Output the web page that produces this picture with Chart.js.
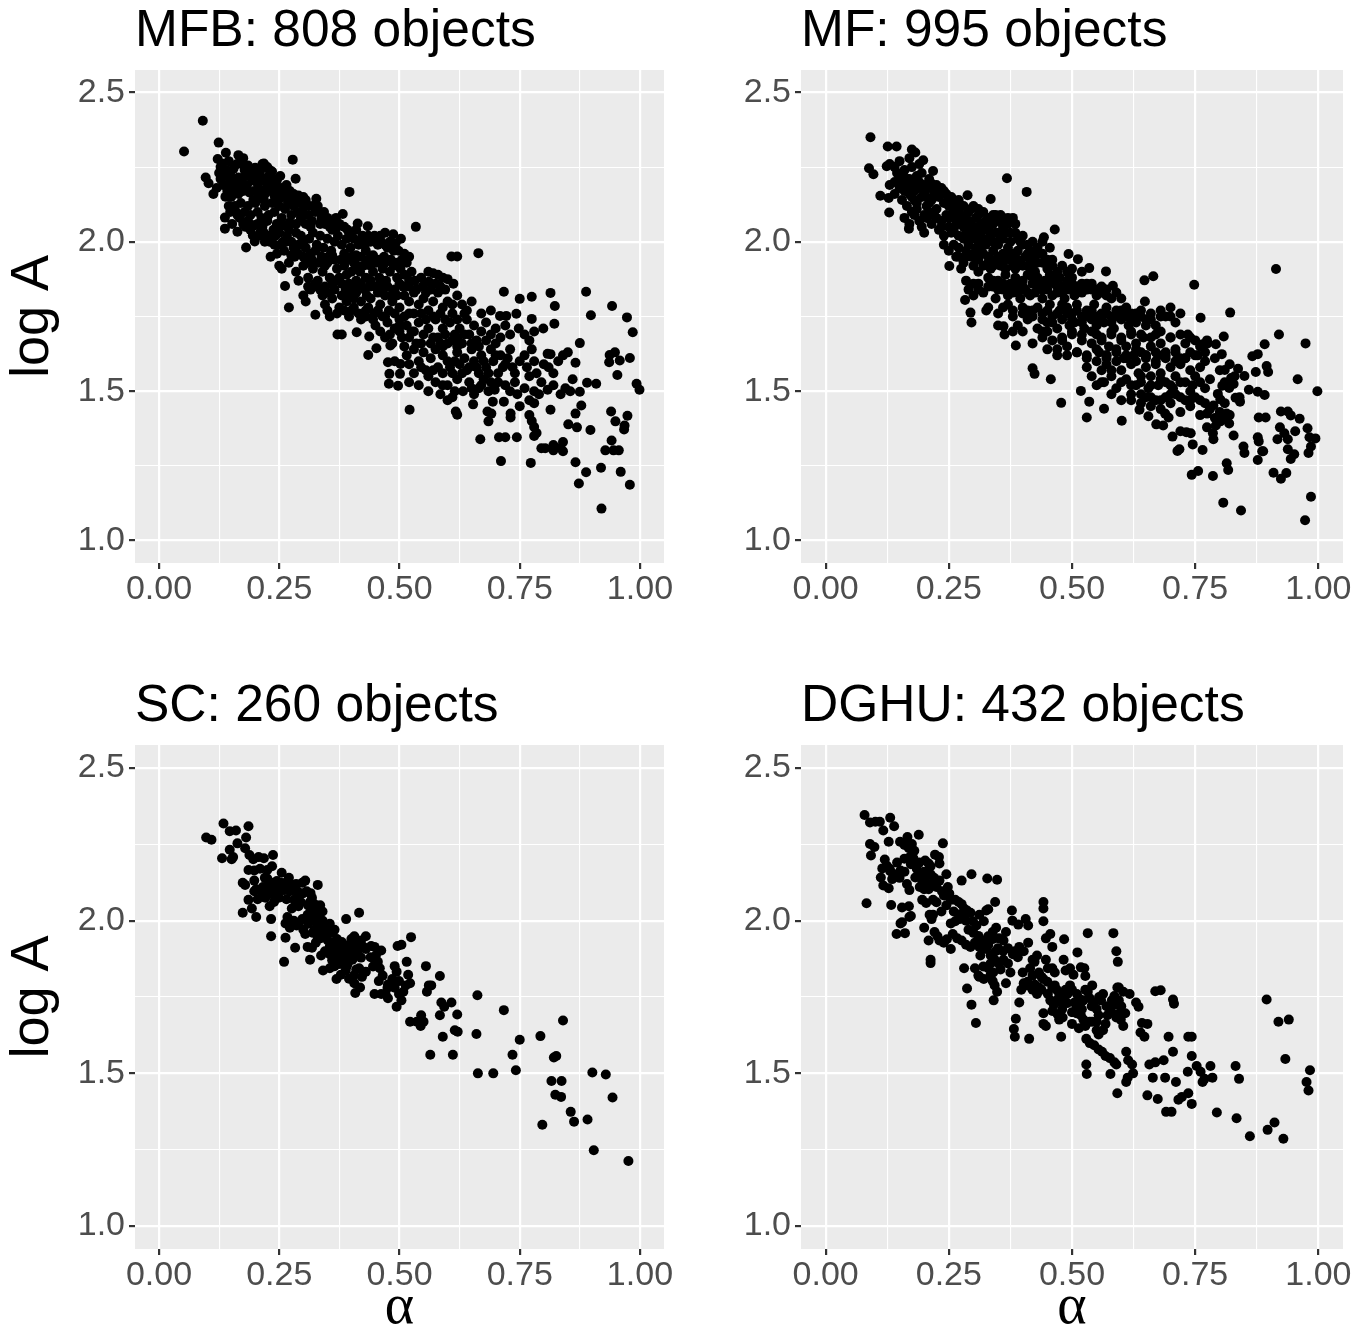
<!DOCTYPE html>
<html><head><meta charset="utf-8">
<script src="https://cdn.jsdelivr.net/npm/chart.js@4.4.1/dist/chart.umd.min.js"></script>
<style>html,body{margin:0;padding:0;background:#fff;width:1370px;height:1331px;overflow:hidden}canvas{position:absolute}</style>
</head><body>
<canvas id="c0"></canvas><canvas id="c1"></canvas><canvas id="c2"></canvas><canvas id="c3"></canvas>
<script>
const xMajorTicks=[0,0.25,0.5,0.75,1];
const xTickLabels=['0.00','0.25','0.50','0.75','1.00'];
const xMinorTicks=[0.125,0.375,0.625,0.875];
const yMajorTicks=[1,1.5,2,2.5];
const yTickLabels=['1.0','1.5','2.0','2.5'];
const yMinorTicks=[1.25,1.75,2.25];
const panelTitles=['MFB: 808 objects','MF: 995 objects','SC: 260 objects','DGHU: 432 objects'];
const xAxisTitle='α';
const yAxisTitle='log A';

const mfbPoints=[[0.052,2.302],[0.091,2.405],[0.124,2.332],[0.139,2.298],[0.122,2.277],[0.131,2.262],[0.145,2.27],[0.165,2.29],[0.175,2.28],[0.17,2.262],[0.185,2.255],[0.2,2.248],[0.218,2.262],[0.225,2.25],[0.278,2.275],[0.128,2.25],[0.14,2.24],[0.155,2.245],[0.19,2.24],[0.235,2.235],[0.21,2.235],
[0.097,2.215],[0.103,2.196],[0.128,2.21],[0.135,2.22],[0.145,2.195],[0.152,2.21],[0.165,2.215],[0.172,2.2],[0.18,2.22],[0.195,2.205],[0.205,2.195],[0.212,2.215],[0.222,2.2],[0.228,2.22],[0.235,2.19],[0.245,2.205],[0.255,2.18],[0.262,2.16],[0.284,2.211],[0.138,2.151],[0.155,2.17],[0.165,2.16],[0.175,2.17],[0.188,2.165],[0.198,2.17],[0.21,2.175],[0.22,2.16],[0.232,2.17],[0.24,2.155],[0.25,2.165],[0.27,2.15],[0.28,2.16],[0.29,2.155],[0.3,2.15],[0.327,2.144],[0.396,2.167],[0.15,2.15],[0.12,2.18],[0.113,2.16],
[0.137,2.081],[0.137,2.044],[0.148,2.1],[0.158,2.12],[0.163,2.09],[0.17,2.13],[0.178,2.1],[0.185,2.12],[0.19,2.09],[0.2,2.13],[0.205,2.1],[0.213,2.08],[0.22,2.12],[0.228,2.09],[0.235,2.13],[0.24,2.1],[0.25,2.12],[0.255,2.08],[0.262,2.11],[0.268,2.13],[0.275,2.09],[0.28,2.12],[0.288,2.1],[0.295,2.08],[0.302,2.12],[0.31,2.09],[0.318,2.07],[0.325,2.1],[0.335,2.06],[0.345,2.06],[0.355,2.05],[0.382,2.093],[0.413,2.061],[0.434,2.052],[0.163,2.034],[0.175,2.06],[0.185,2.07],[0.198,2.055],[0.215,2.05],[0.225,2.07],[0.245,2.06],[0.26,2.055],[0.272,2.065],[0.285,2.06],[0.305,2.06],[0.315,2.05],[0.195,2.021],[0.199,2.001],[0.534,2.05],[0.36,2.04],[0.37,2.05],[0.47,2.03],[0.487,2.025],
[0.181,1.981],[0.21,2.03],[0.22,2.0],[0.23,2.02],[0.24,1.99],[0.25,2.03],[0.258,2.0],[0.266,2.02],[0.26,1.97],[0.275,2.0],[0.285,2.03],[0.29,1.99],[0.295,2.02],[0.305,1.98],[0.312,2.01],[0.32,2.03],[0.328,1.99],[0.335,2.02],[0.342,1.98],[0.35,2.01],[0.358,1.97],[0.365,2.0],[0.372,2.02],[0.38,1.99],[0.39,2.01],[0.398,1.98],[0.405,2.01],[0.415,1.99],[0.423,2.02],[0.43,1.97],[0.44,2.0],[0.448,2.02],[0.455,1.99],[0.462,2.0],[0.475,1.98],[0.492,1.995],[0.498,1.97],[0.503,2.01],[0.51,1.96],[0.52,1.95],[0.608,1.951],[0.62,1.951],[0.664,1.962],[0.245,1.96],[0.232,1.95],[0.25,1.92],[0.255,1.91],[0.275,1.955],[0.3,1.95],[0.315,1.96],[0.338,1.95],[0.36,1.955],[0.385,1.96],[0.41,1.955],[0.445,1.955],[0.468,1.95],
[0.27,1.93],[0.285,1.9],[0.29,1.87],[0.3,1.92],[0.31,1.88],[0.32,1.91],[0.33,1.87],[0.34,1.9],[0.35,1.93],[0.355,1.88],[0.36,1.86],[0.37,1.91],[0.375,1.88],[0.385,1.92],[0.39,1.89],[0.395,1.86],[0.4,1.9],[0.405,1.93],[0.41,1.87],[0.418,1.9],[0.425,1.92],[0.43,1.88],[0.438,1.85],[0.445,1.9],[0.452,1.93],[0.458,1.88],[0.465,1.91],[0.472,1.87],[0.48,1.9],[0.488,1.92],[0.495,1.88],[0.502,1.91],[0.51,1.89],[0.515,1.93],[0.525,1.9],[0.532,1.87],[0.545,1.88],[0.56,1.9],[0.57,1.895],[0.58,1.89],[0.59,1.88],[0.6,1.875],[0.612,1.86],[0.561,1.866],[0.262,1.852],[0.31,1.85],[0.325,1.86],[0.345,1.85],[0.46,1.86],[0.5,1.86],[0.52,1.85],
[0.3,1.82],[0.305,1.8],[0.315,1.84],[0.325,1.756],[0.34,1.82],[0.345,1.79],[0.35,1.77],[0.36,1.81],[0.365,1.84],[0.375,1.78],[0.38,1.82],[0.39,1.8],[0.395,1.84],[0.4,1.77],[0.405,1.81],[0.41,1.83],[0.415,1.76],[0.42,1.8],[0.428,1.84],[0.435,1.78],[0.44,1.81],[0.448,1.76],[0.455,1.83],[0.46,1.79],[0.47,1.82],[0.478,1.77],[0.485,1.8],[0.49,1.84],[0.5,1.78],[0.51,1.82],[0.52,1.8],[0.53,1.83],[0.54,1.79],[0.55,1.81],[0.56,1.77],[0.57,1.8],[0.58,1.83],[0.59,1.78],[0.6,1.8],[0.61,1.76],[0.62,1.82],[0.63,1.79],[0.64,1.77],[0.65,1.8],[0.27,1.78],[0.717,1.833],[0.75,1.809],[0.775,1.816],[0.814,1.829],[0.823,1.785],[0.888,1.833],[0.942,1.785],[0.898,1.754],[0.973,1.747],[0.743,1.759],[0.709,1.752],[0.722,1.752],[0.775,1.742],[0.69,1.77],[0.67,1.76],[0.355,1.75],[0.43,1.75],[0.465,1.75],[0.52,1.76],
[0.371,1.69],[0.38,1.69],[0.411,1.697],[0.437,1.683],[0.45,1.72],[0.46,1.7],[0.475,1.73],[0.48,1.69],[0.49,1.71],[0.5,1.74],[0.505,1.68],[0.515,1.72],[0.525,1.7],[0.535,1.66],[0.54,1.73],[0.55,1.69],[0.56,1.71],[0.565,1.66],[0.575,1.74],[0.58,1.68],[0.59,1.71],[0.6,1.66],[0.605,1.73],[0.615,1.69],[0.625,1.71],[0.63,1.66],[0.64,1.74],[0.645,1.69],[0.655,1.72],[0.66,1.67],[0.67,1.7],[0.68,1.73],[0.69,1.69],[0.7,1.71],[0.71,1.68],[0.72,1.72],[0.73,1.69],[0.748,1.71],[0.799,1.71],[0.822,1.726],[0.875,1.661],[0.985,1.697],[0.76,1.69],[0.77,1.67],[0.78,1.7],[0.59,1.65],[0.62,1.65],
[0.435,1.621],[0.452,1.644],[0.481,1.653],[0.476,1.597],[0.501,1.558],[0.502,1.591],[0.479,1.558],[0.49,1.6],[0.515,1.62],[0.52,1.59],[0.53,1.64],[0.54,1.6],[0.55,1.63],[0.555,1.57],[0.565,1.61],[0.575,1.64],[0.58,1.58],[0.59,1.62],[0.6,1.6],[0.61,1.56],[0.62,1.63],[0.625,1.59],[0.635,1.61],[0.64,1.57],[0.65,1.64],[0.655,1.6],[0.665,1.56],[0.67,1.62],[0.68,1.58],[0.69,1.64],[0.695,1.6],[0.705,1.56],[0.71,1.62],[0.72,1.59],[0.73,1.64],[0.74,1.56],[0.75,1.6],[0.765,1.58],[0.775,1.64],[0.78,1.6],[0.785,1.56],[0.8,1.59],[0.808,1.625],[0.814,1.624],[0.83,1.6],[0.84,1.62],[0.85,1.63],[0.866,1.595],[0.937,1.621],[0.948,1.63],[0.953,1.554],[0.936,1.597],[0.958,1.603],[0.979,1.611],[0.82,1.56],[0.81,1.58],
[0.478,1.525],[0.497,1.518],[0.52,1.53],[0.54,1.52],[0.56,1.5],[0.575,1.53],[0.585,1.49],[0.6,1.52],[0.61,1.48],[0.62,1.54],[0.632,1.5],[0.645,1.53],[0.655,1.49],[0.665,1.51],[0.675,1.54],[0.685,1.5],[0.698,1.505],[0.694,1.465],[0.705,1.53],[0.717,1.465],[0.73,1.5],[0.745,1.49],[0.76,1.51],[0.77,1.47],[0.78,1.5],[0.795,1.53],[0.808,1.505],[0.82,1.52],[0.835,1.49],[0.845,1.51],[0.855,1.5],[0.86,1.54],[0.875,1.498],[0.878,1.452],[0.909,1.525],[0.89,1.528],[0.993,1.525],[0.999,1.505],[0.653,1.456],[0.814,1.438],[0.75,1.45],[0.6,1.47],[0.78,1.46],
[0.521,1.438],[0.617,1.432],[0.62,1.421],[0.685,1.399],[0.691,1.425],[0.683,1.432],[0.731,1.412],[0.731,1.425],[0.668,1.339],[0.707,1.346],[0.72,1.346],[0.744,1.346],[0.77,1.42],[0.775,1.4],[0.78,1.38],[0.785,1.36],[0.78,1.35],[0.795,1.309],[0.803,1.309],[0.82,1.302],[0.82,1.32],[0.835,1.31],[0.84,1.299],[0.866,1.425],[0.869,1.379],[0.851,1.389],[0.897,1.37],[0.94,1.432],[0.949,1.399],[0.941,1.335],[0.974,1.418],[0.968,1.385],[0.967,1.372],[0.928,1.302],[0.945,1.302],[0.956,1.302],[0.711,1.266],[0.773,1.26],[0.866,1.262],[0.84,1.33],
[0.919,1.244],[0.96,1.23],[0.979,1.187],[0.92,1.107],[0.888,1.229],[0.873,1.191],
[0.125,2.23],[0.133,2.19],[0.142,2.17],[0.148,2.23],[0.158,2.19],[0.162,2.26],[0.168,2.18],[0.178,2.24],[0.183,2.19],[0.192,2.22],[0.196,2.14],[0.203,2.22],[0.208,2.15],[0.215,2.26],[0.218,2.14],[0.226,2.18],[0.23,2.24],[0.238,2.21],[0.243,2.18],[0.248,2.14],[0.252,2.22],[0.258,2.15],[0.265,2.19],[0.272,2.17],[0.278,2.13],[0.285,2.14],[0.292,2.13],[0.298,2.1],[0.305,2.14],[0.312,2.12],[0.32,2.12],[0.33,2.12],[0.338,2.08],[0.343,2.1],[0.35,2.08],[0.36,2.07],[0.368,2.08],[0.375,2.06],[0.385,2.05],[0.392,2.04],[0.4,2.03],[0.41,2.04],[0.42,2.0],[0.428,1.99],[0.435,2.02],[0.45,2.0],[0.46,2.02],[0.47,1.99],[0.48,2.0],[0.488,1.97],
[0.145,2.12],[0.152,2.06],[0.16,2.1],[0.168,2.08],[0.18,2.05],[0.19,2.04],[0.205,2.06],[0.208,2.02],[0.218,2.03],[0.23,2.0],[0.238,2.04],[0.242,2.02],[0.252,1.99],[0.265,2.0],[0.27,2.04],[0.28,1.98],[0.282,1.95],[0.29,1.96],[0.3,2.0],[0.308,1.93],[0.318,1.94],[0.325,1.97],[0.332,1.93],[0.345,1.92],[0.352,1.95],[0.365,1.94],[0.378,1.94],[0.392,1.94],[0.4,1.95],[0.412,1.92],[0.42,1.95],[0.435,1.94],[0.44,1.92],[0.458,1.94],[0.47,1.93],[0.482,1.94],[0.495,1.93],[0.505,1.94],
[0.32,1.85],[0.335,1.84],[0.35,1.83],[0.365,1.87],[0.38,1.86],[0.388,1.84],[0.398,1.82],[0.41,1.85],[0.42,1.86],[0.432,1.82],[0.44,1.87],[0.45,1.85],[0.462,1.84],[0.475,1.85],[0.482,1.82],[0.495,1.82],[0.508,1.85],[0.52,1.87],[0.535,1.84],[0.548,1.85],[0.555,1.83],[0.565,1.84],[0.575,1.86],[0.585,1.85],[0.595,1.84],
[0.37,1.76],[0.385,1.77],[0.395,1.75],[0.405,1.78],[0.42,1.74],[0.43,1.77],[0.445,1.74],[0.455,1.77],[0.47,1.75],[0.49,1.76],[0.5,1.72],[0.51,1.75],[0.53,1.76],[0.545,1.76],[0.555,1.74],[0.57,1.75],[0.585,1.76],[0.595,1.74],[0.61,1.79],[0.62,1.74],[0.635,1.76],
[0.47,1.68],[0.485,1.66],[0.5,1.7],[0.51,1.65],[0.52,1.68],[0.53,1.7],[0.545,1.66],[0.57,1.68],[0.585,1.66],[0.595,1.69],[0.61,1.67],[0.62,1.68],[0.635,1.69],[0.65,1.66],[0.665,1.65],[0.68,1.67],[0.7,1.66],
[0.53,1.56],[0.545,1.58],[0.56,1.55],[0.57,1.57],[0.59,1.56],[0.605,1.58],[0.615,1.6],[0.63,1.56],[0.645,1.58],[0.66,1.58],[0.675,1.6],[0.685,1.56],[0.7,1.62],[0.715,1.58],[0.725,1.61],[0.735,1.58],[0.76,1.62],[0.59,1.52],[0.615,1.5],[0.65,1.51],[0.67,1.52],[0.69,1.53],[0.72,1.52],[0.74,1.53],[0.77,1.55],[0.79,1.49]];

const mfPoints=[[0.091,2.35],[0.088,2.246],[0.097,2.226],[0.126,2.319],[0.144,2.319],[0.124,2.253],[0.111,2.154],[0.129,2.098],[0.128,2.147],[0.169,2.044],[0.2,2.03],[0.175,2.309],[0.182,2.299],[0.198,2.273],[0.218,2.237],[0.368,2.213],[0.408,2.167],[0.288,2.156],[0.335,2.143],[0.251,1.919],[0.283,1.805],[0.294,1.763],[0.296,1.73],[0.326,1.77],[0.361,1.717],[0.363,1.69],[0.386,1.653],[0.42,1.577],[0.424,1.558],[0.457,1.54],[0.478,1.461],[0.465,2.041],[0.443,2.015],[0.493,1.959],[0.512,1.942],[0.535,1.912],[0.569,1.901],[0.583,1.853],[0.647,1.871],[0.665,1.885],[0.748,1.856],[0.648,1.8],[0.821,1.763],[0.761,1.746],[0.808,1.683],[0.914,1.909],[0.92,1.69],[0.974,1.66],[0.958,1.54],[0.998,1.5],[0.891,1.657],[0.877,1.624],[0.866,1.617],[0.895,1.584],[0.898,1.564],[0.873,1.564],[0.837,1.575],[0.85,1.551],[0.859,1.505],[0.891,1.487],[0.877,1.498],[0.841,1.465],[0.832,1.478],[0.823,1.544],[0.828,1.524],[0.819,1.511],[0.81,1.571],[0.804,1.624],[0.792,1.657],[0.774,1.67],[0.765,1.657],[0.805,1.518],[0.796,1.491],[0.801,1.472],[0.814,1.425],[0.807,1.405],[0.819,1.392],[0.787,1.452],[0.774,1.425],[0.774,1.379],[0.786,1.359],[0.787,1.339],[0.792,1.385],[0.801,1.399],[0.828,1.352],[0.879,1.412],[0.893,1.412],[0.888,1.299],[0.924,1.432],[0.938,1.432],[0.944,1.419],[0.962,1.408],[0.922,1.379],[0.931,1.359],[0.938,1.339],[0.953,1.366],[0.917,1.339],[0.938,1.306],[0.944,1.273],[0.951,1.289],[0.978,1.376],[0.982,1.346],[0.994,1.342],[0.985,1.315],[0.98,1.293],[0.909,1.227],[0.924,1.207],[0.935,1.226],[0.877,1.346],[0.879,1.332],[0.886,1.299],[0.877,1.27],[0.848,1.315],[0.85,1.293],[0.814,1.259],[0.817,1.236],[0.807,1.127],[0.843,1.101],[0.985,1.147],[0.973,1.068],[0.786,1.216],[0.756,1.233],[0.743,1.22],[0.765,1.303],[0.745,1.322],[0.718,1.306],[0.714,1.3],[0.704,1.348],[0.72,1.366],[0.732,1.363],[0.741,1.359],[0.696,1.412],[0.689,1.425],[0.671,1.389],[0.685,1.385],[0.655,1.416],[0.637,1.438],[0.601,1.401],[0.565,1.441],[0.53,1.412],[0.535,1.465],[0.518,1.501],
[0.13,2.26],[0.14,2.25],[0.15,2.27],[0.16,2.24],[0.17,2.28],[0.175,2.25],[0.185,2.22],[0.19,2.26],[0.195,2.23],[0.21,2.21],[0.155,2.22],[0.145,2.23],[0.165,2.21],
[0.13,2.19],[0.14,2.16],[0.15,2.18],[0.155,2.14],[0.16,2.17],[0.165,2.12],[0.17,2.19],[0.175,2.15],[0.18,2.17],[0.185,2.13],[0.19,2.18],[0.195,2.15],[0.2,2.17],[0.205,2.12],[0.21,2.18],[0.215,2.14],[0.22,2.17],[0.225,2.11],[0.23,2.15],[0.235,2.18],[0.24,2.13],[0.245,2.16],[0.25,2.12],[0.255,2.15],[0.26,2.1],[0.265,2.13],[0.27,2.11],[0.28,2.12],[0.29,2.1],[0.3,2.12],[0.31,2.11],[0.32,2.1],[0.215,2.195],[0.225,2.19],[0.18,2.2],[0.17,2.21],
[0.16,2.08],[0.17,2.06],[0.18,2.09],[0.19,2.07],[0.195,2.05],[0.205,2.08],[0.215,2.06],[0.22,2.09],[0.23,2.04],[0.235,2.07],[0.24,2.02],[0.245,2.09],[0.25,2.05],[0.255,2.03],[0.26,2.08],[0.265,2.06],[0.27,2.02],[0.275,2.08],[0.28,2.05],[0.285,2.03],[0.29,2.07],[0.295,2.01],[0.3,2.05],[0.305,2.08],[0.31,2.03],[0.315,2.06],[0.32,2.01],[0.325,2.07],[0.33,2.04],[0.335,2.02],[0.34,2.06],[0.345,2.03],[0.35,2.07],[0.355,2.01],[0.36,2.05],[0.37,2.08],[0.375,2.03],[0.385,2.06],[0.39,2.01],[0.38,2.08],[0.355,2.09],[0.345,2.09],[0.27,2.095],
[0.25,1.97],[0.26,1.99],[0.265,1.95],[0.27,1.98],[0.28,1.93],[0.285,1.97],[0.29,1.99],[0.295,1.95],[0.3,1.92],[0.305,1.98],[0.31,1.94],[0.315,1.97],[0.32,1.92],[0.325,1.99],[0.33,1.95],[0.335,1.91],[0.34,1.97],[0.345,1.94],[0.35,1.99],[0.355,1.92],[0.36,1.96],[0.365,1.91],[0.37,1.98],[0.375,1.94],[0.38,1.96],[0.385,1.91],[0.39,1.97],[0.395,1.93],[0.4,1.99],[0.405,1.95],[0.41,1.92],[0.415,1.97],[0.42,1.94],[0.425,1.9],[0.43,1.96],[0.44,1.93],[0.45,1.91],[0.46,1.94],[0.47,1.9],[0.24,1.99],[0.275,1.91],[0.44,2.0],[0.455,1.98],
[0.285,1.87],[0.29,1.84],[0.3,1.82],[0.31,1.86],[0.32,1.83],[0.33,1.88],[0.34,1.85],[0.345,1.81],[0.35,1.87],[0.36,1.84],[0.365,1.89],[0.37,1.82],[0.375,1.86],[0.38,1.83],[0.385,1.88],[0.39,1.85],[0.395,1.81],[0.4,1.87],[0.405,1.84],[0.41,1.89],[0.415,1.82],[0.42,1.86],[0.425,1.83],[0.43,1.88],[0.435,1.85],[0.44,1.81],[0.445,1.87],[0.45,1.84],[0.455,1.89],[0.46,1.82],[0.465,1.86],[0.47,1.83],[0.475,1.88],[0.48,1.85],[0.485,1.81],[0.49,1.87],[0.495,1.84],[0.5,1.86],[0.505,1.82],[0.51,1.85],[0.52,1.83],[0.53,1.86],[0.54,1.84],[0.55,1.82],[0.56,1.85],[0.57,1.82],[0.58,1.81],
[0.33,1.78],[0.35,1.76],[0.37,1.79],[0.38,1.75],[0.39,1.72],[0.4,1.78],[0.41,1.74],[0.42,1.77],[0.43,1.71],[0.44,1.76],[0.45,1.73],[0.455,1.79],[0.46,1.75],[0.47,1.71],[0.475,1.77],[0.48,1.74],[0.49,1.78],[0.495,1.72],[0.5,1.76],[0.505,1.73],[0.51,1.79],[0.52,1.75],[0.525,1.71],[0.53,1.77],[0.54,1.74],[0.545,1.79],[0.55,1.72],[0.56,1.76],[0.565,1.73],[0.57,1.78],[0.58,1.75],[0.585,1.71],[0.59,1.77],[0.6,1.74],[0.61,1.78],[0.615,1.72],[0.62,1.76],[0.63,1.73],[0.64,1.77],[0.65,1.74],[0.66,1.76],[0.67,1.72],[0.68,1.77],[0.69,1.75],[0.7,1.78],[0.71,1.73],[0.35,1.72],[0.4,1.7],[0.38,1.7],[0.44,1.7],
[0.42,1.66],[0.44,1.68],[0.45,1.64],[0.46,1.67],[0.47,1.62],[0.48,1.68],[0.49,1.65],[0.5,1.69],[0.51,1.63],[0.52,1.67],[0.53,1.61],[0.54,1.66],[0.55,1.69],[0.555,1.63],[0.56,1.67],[0.57,1.61],[0.575,1.65],[0.58,1.69],[0.59,1.63],[0.6,1.67],[0.605,1.61],[0.61,1.65],[0.62,1.69],[0.625,1.62],[0.63,1.66],[0.64,1.63],[0.645,1.68],[0.65,1.61],[0.66,1.65],[0.67,1.69],[0.675,1.62],[0.68,1.66],[0.69,1.63],[0.7,1.68],[0.71,1.64],[0.72,1.61],[0.73,1.66],[0.735,1.69],[0.74,1.63],[0.75,1.67],[0.755,1.62],[0.76,1.65],[0.77,1.63],[0.775,1.66],[0.79,1.61],
[0.53,1.58],[0.54,1.55],[0.55,1.52],[0.56,1.57],[0.565,1.53],[0.57,1.59],[0.58,1.55],[0.59,1.51],[0.6,1.57],[0.61,1.54],[0.62,1.59],[0.63,1.52],[0.635,1.56],[0.64,1.53],[0.65,1.58],[0.655,1.51],[0.66,1.55],[0.67,1.59],[0.675,1.52],[0.68,1.56],[0.69,1.53],[0.7,1.58],[0.705,1.51],[0.71,1.55],[0.72,1.59],[0.73,1.53],[0.74,1.57],[0.745,1.52],[0.75,1.55],[0.76,1.58],[0.77,1.51],[0.78,1.54],[0.8,1.57],[0.81,1.53],[0.82,1.59],[0.83,1.55],
[0.6,1.47],[0.62,1.49],[0.64,1.46],[0.65,1.48],[0.66,1.45],[0.67,1.47],[0.68,1.44],[0.69,1.48],[0.7,1.46],[0.71,1.49],[0.72,1.43],[0.73,1.47],[0.74,1.45],[0.75,1.48],[0.76,1.42],[0.77,1.46],[0.78,1.44],[0.79,1.41],[0.8,1.43],[0.81,1.46],[0.82,1.42],[0.84,1.48],[0.58,1.49],
[0.14,2.2],[0.15,2.21],[0.16,2.19],[0.17,2.16],[0.18,2.14],[0.19,2.2],[0.2,2.19],[0.205,2.15],[0.21,2.13],[0.22,2.15],[0.23,2.18],[0.24,2.17],[0.25,2.14],[0.26,2.13],[0.27,2.14],[0.275,2.12],[0.285,2.09],[0.295,2.11],[0.31,2.09],[0.33,2.08],[0.34,2.09],[0.36,2.08],[0.37,2.06],
[0.175,2.1],[0.185,2.11],[0.2,2.09],[0.21,2.1],[0.225,2.08],[0.235,2.05],[0.25,2.08],[0.26,2.04],[0.27,2.06],[0.28,2.01],[0.29,2.04],[0.3,2.02],[0.31,2.0],[0.32,2.04],[0.33,2.01],[0.34,2.0],[0.35,2.03],[0.36,2.01],[0.365,2.03],[0.375,2.0],[0.385,2.03],[0.395,2.0],[0.4,2.02],[0.41,1.99],[0.42,2.0],[0.43,1.98],
[0.27,1.95],[0.285,1.95],[0.3,1.96],[0.31,1.9],[0.32,1.96],[0.33,1.93],[0.34,1.92],[0.35,1.95],[0.36,1.93],[0.37,1.95],[0.38,1.92],[0.39,1.94],[0.4,1.92],[0.41,1.96],[0.42,1.91],[0.43,1.93],[0.44,1.96],[0.45,1.94],[0.46,1.92],[0.48,1.92],[0.49,1.9],[0.5,1.91],[0.52,1.9],
[0.3,1.86],[0.31,1.84],[0.33,1.85],[0.34,1.87],[0.35,1.84],[0.36,1.86],[0.37,1.84],[0.38,1.86],[0.39,1.83],[0.4,1.85],[0.41,1.83],[0.42,1.88],[0.43,1.86],[0.44,1.84],[0.45,1.86],[0.46,1.88],[0.47,1.85],[0.48,1.83],[0.49,1.85],[0.5,1.88],[0.51,1.83],[0.52,1.86],[0.53,1.84],[0.54,1.86],[0.55,1.84],[0.56,1.83],[0.57,1.84],[0.59,1.83],[0.6,1.81],
[0.36,1.78],[0.38,1.77],[0.4,1.76],[0.41,1.77],[0.42,1.75],[0.43,1.78],[0.44,1.74],[0.45,1.77],[0.46,1.73],[0.47,1.76],[0.48,1.79],[0.49,1.76],[0.5,1.74],[0.51,1.77],[0.52,1.73],[0.53,1.75],[0.54,1.77],[0.55,1.75],[0.56,1.74],[0.57,1.76],[0.58,1.73],[0.59,1.75],[0.6,1.77],[0.61,1.75],[0.62,1.74],[0.63,1.76],[0.64,1.75],[0.65,1.72],[0.66,1.74],[0.68,1.75],[0.7,1.75],[0.72,1.76],
[0.45,1.7],[0.47,1.64],[0.48,1.67],[0.49,1.62],[0.5,1.7],[0.51,1.63],[0.52,1.69],[0.53,1.62],[0.54,1.7],[0.55,1.64],[0.56,1.68],[0.57,1.62],[0.58,1.7],[0.59,1.64],[0.6,1.68],[0.61,1.62],[0.62,1.7],[0.63,1.64],[0.64,1.69],[0.65,1.62],[0.66,1.68],[0.67,1.63],[0.68,1.7],[0.69,1.62],[0.7,1.68],[0.71,1.63],[0.72,1.69],[0.73,1.61],[0.74,1.68],[0.75,1.62],
[0.55,1.6],[0.56,1.53],[0.57,1.62],[0.58,1.57],[0.59,1.6],[0.6,1.53],[0.61,1.61],[0.62,1.52],[0.63,1.6],[0.64,1.55],[0.65,1.62],[0.66,1.52],[0.67,1.6],[0.68,1.54],[0.69,1.61],[0.7,1.52],[0.71,1.6],[0.72,1.53],[0.73,1.61],[0.74,1.5],[0.76,1.53],[0.77,1.6],
[0.62,1.47],[0.64,1.49],[0.66,1.48],[0.68,1.47],[0.7,1.49],[0.72,1.48],[0.74,1.47],[0.76,1.47]];

const scPoints=[[0.098,2.272],[0.109,2.265],[0.134,2.318],[0.131,2.204],[0.147,2.293],[0.16,2.295],[0.186,2.309],[0.181,2.272],[0.163,2.253],[0.147,2.232],[0.154,2.208],[0.151,2.201],[0.179,2.237],[0.188,2.215],[0.196,2.201],[0.207,2.208],[0.218,2.204],[0.237,2.215],[0.186,2.166],[0.198,2.164],[0.225,2.166],[0.235,2.178],[0.174,2.124],[0.179,2.117],[0.202,2.103],[0.198,2.131],[0.174,2.026],[0.186,2.068],[0.193,2.04],[0.202,2.012],[0.198,2.096],[0.216,2.11],[0.225,2.138],[0.23,2.096],[0.237,2.124],[0.244,2.103],[0.253,2.124],[0.255,2.157],[0.249,2.075],[0.239,2.061],[0.23,2.047],[0.221,2.075],[0.233,2.005],[0.233,1.949],[0.263,2.124],[0.272,2.096],[0.276,2.117],[0.281,2.068],[0.288,2.096],[0.298,2.124],[0.304,2.131],[0.307,2.096],[0.318,2.075],[0.314,2.061],[0.29,2.047],[0.276,2.04],[0.267,2.012],[0.263,1.991],[0.272,1.977],[0.286,1.984],[0.298,2.005],[0.309,2.019],[0.318,2.012],[0.327,1.998],[0.332,2.026],[0.323,2.054],[0.33,2.117],[0.263,1.944],[0.26,1.865],[0.283,1.911],[0.304,1.956],[0.309,1.914],[0.314,1.872],[0.318,1.911],[0.326,1.928],[0.329,1.956],[0.335,1.942],[0.323,1.97],[0.337,1.977],[0.346,1.956],[0.351,1.935],[0.355,1.914],[0.36,1.928],[0.363,1.9],[0.366,1.886],[0.372,1.911],[0.374,1.872],[0.376,1.858],[0.378,1.886],[0.383,1.865],[0.365,1.851],[0.355,1.844],[0.369,1.809],[0.378,1.823],[0.388,1.837],[0.392,1.858],[0.397,1.872],[0.402,1.9],[0.337,1.886],[0.341,1.837],[0.389,2.005],[0.416,2.026],[0.406,1.949],[0.411,1.928],[0.42,1.935],[0.43,1.949],[0.425,1.914],[0.416,1.907],[0.411,1.886],[0.402,1.872],[0.42,1.879],[0.416,1.844],[0.422,1.816],[0.43,1.833],[0.406,1.795],[0.408,1.763],[0.418,1.781],[0.43,1.907],[0.441,1.917],[0.448,1.914],[0.451,1.886],[0.462,1.902],[0.45,1.858],[0.455,1.865],[0.459,1.844],[0.448,1.76],[0.462,1.76],[0.471,1.76],[0.476,1.791],[0.485,1.809],[0.476,1.746],[0.457,1.802],[0.49,1.851],[0.494,1.833],[0.496,1.917],[0.504,1.921],[0.515,1.865],[0.518,1.823],[0.522,1.795],[0.513,1.788],[0.504,1.739],[0.494,1.718],[0.499,1.76],[0.508,1.767],[0.499,1.802],[0.524,1.946],[0.522,1.669],[0.536,1.669],[0.545,1.69],[0.55,1.669],[0.544,1.655],[0.555,1.851],[0.561,1.788],[0.557,1.767],[0.566,1.788],[0.584,1.819],[0.587,1.732],[0.593,1.718],[0.584,1.69],[0.564,1.561],[0.59,1.62],[0.608,1.732],[0.615,1.641],[0.621,1.636],[0.611,1.561],[0.62,1.693],[0.662,1.756],[0.66,1.629],[0.663,1.5],[0.695,1.5],[0.717,1.707],[0.735,1.561],[0.742,1.51],[0.75,1.61],[0.793,1.622],[0.797,1.332],[0.816,1.475],[0.821,1.552],[0.826,1.557],[0.837,1.475],[0.84,1.673],[0.824,1.43],[0.836,1.423],[0.856,1.374],[0.863,1.342],[0.891,1.349],[0.901,1.503],[0.929,1.496],[0.904,1.248],[0.943,1.421],[0.976,1.213],
[0.21,2.17],[0.22,2.14],[0.228,2.12],[0.245,2.13],[0.26,2.1],[0.265,2.07],[0.28,2.1],[0.29,2.08],[0.295,2.06],[0.3,2.09],[0.31,2.05],[0.32,2.03],[0.325,2.0],[0.34,2.0],[0.345,1.98],[0.35,1.97],[0.36,1.96],[0.37,1.94],[0.38,1.93],[0.385,1.91],[0.395,1.92],[0.4,1.94],[0.405,1.91],[0.28,2.0],[0.29,1.99],[0.3,1.97],[0.31,1.99],[0.32,1.96],[0.33,1.94],[0.345,1.9],[0.355,1.89],[0.36,1.87],[0.37,1.88],[0.385,1.89],[0.39,1.85],[0.395,1.81],[0.405,1.82],[0.41,1.84],[0.44,1.88],[0.445,1.85],[0.465,1.82],[0.475,1.78],[0.49,1.78],[0.24,2.08],[0.215,2.09],[0.205,2.07],[0.255,2.1],[0.27,2.14],[0.285,2.12],[0.315,2.09],[0.335,2.05],[0.34,2.03],[0.355,1.99],[0.365,1.97]];

const dghuPoints=[[0.079,2.346],[0.09,2.321],[0.101,2.324],[0.11,2.324],[0.117,2.295],[0.131,2.337],[0.139,2.309],[0.128,2.258],[0.09,2.251],[0.099,2.241],[0.092,2.213],[0.083,2.057],[0.115,2.171],[0.124,2.18],[0.112,2.141],[0.117,2.115],[0.131,2.162],[0.14,2.152],[0.152,2.164],[0.135,2.136],[0.128,2.106],[0.133,2.051],[0.144,1.956],[0.152,1.991],[0.161,1.959],[0.155,1.995],[0.155,2.043],[0.169,2.047],[0.173,2.015],[0.17,2.012],[0.151,2.258],[0.16,2.248],[0.166,2.274],[0.169,2.237],[0.175,2.251],[0.18,2.229],[0.178,2.204],[0.169,2.206],[0.173,2.185],[0.16,2.203],[0.189,2.281],[0.202,2.197],[0.209,2.187],[0.213,2.178],[0.222,2.216],[0.23,2.208],[0.231,2.187],[0.238,2.253],[0.182,2.141],[0.191,2.152],[0.196,2.131],[0.204,2.145],[0.2,2.103],[0.209,2.103],[0.213,2.152],[0.218,2.124],[0.225,2.11],[0.231,2.131],[0.236,2.096],[0.24,2.082],[0.248,2.11],[0.251,2.089],[0.254,2.068],[0.245,2.152],[0.196,2.068],[0.204,2.058],[0.218,2.068],[0.191,2.11],[0.2,1.977],[0.209,1.935],[0.213,1.861],[0.213,1.872],[0.211,2.019],[0.218,2.019],[0.215,2.005],[0.221,1.963],[0.227,1.949],[0.231,1.935],[0.24,1.928],[0.246,1.939],[0.254,1.907],[0.276,2.131],[0.296,2.152],[0.263,2.068],[0.27,2.061],[0.276,2.054],[0.281,2.04],[0.287,2.033],[0.294,2.026],[0.279,2.019],[0.272,2.005],[0.263,1.998],[0.254,1.991],[0.258,1.956],[0.267,1.942],[0.276,1.935],[0.285,1.921],[0.294,1.914],[0.303,1.928],[0.312,1.914],[0.321,1.935],[0.33,1.949],[0.339,1.963],[0.346,1.977],[0.352,1.942],[0.361,1.935],[0.281,1.844],[0.287,1.778],[0.296,1.725],[0.305,1.665],[0.299,1.998],[0.306,1.984],[0.312,2.019],[0.321,1.998],[0.326,2.033],[0.33,2.037],[0.328,2.138],[0.348,2.134],[0.344,2.061],[0.303,1.844],[0.312,1.816],[0.321,1.809],[0.33,1.844],[0.335,1.823],[0.339,1.802],[0.343,1.788],[0.348,1.767],[0.341,1.739],[0.352,1.858],[0.361,1.872],[0.314,1.886],[0.326,1.907],[0.335,1.886],[0.343,1.872],[0.366,1.963],[0.366,1.795],[0.375,1.83],[0.379,2.0],[0.378,2.033],[0.391,1.987],[0.384,1.9],[0.393,1.914],[0.402,1.9],[0.411,1.928],[0.411,1.984],[0.406,2.005],[0.382,1.645],[0.384,1.62],[0.386,1.679],[0.393,1.732],[0.397,1.774],[0.402,1.795],[0.409,1.788],[0.413,1.613],[0.415,1.844],[0.42,1.872],[0.424,1.865],[0.429,1.886],[0.433,1.83],[0.438,1.816],[0.442,1.809],[0.447,1.872],[0.451,1.844],[0.447,1.942],[0.442,1.998],[0.442,2.04],[0.442,2.061],[0.456,1.956],[0.46,1.914],[0.42,1.774],[0.429,1.76],[0.433,1.781],[0.438,1.774],[0.442,1.697],[0.447,1.655],[0.442,1.662],[0.46,1.844],[0.465,1.83],[0.465,1.788],[0.469,1.774],[0.474,1.76],[0.478,1.732],[0.483,1.746],[0.487,1.774],[0.491,1.76],[0.487,1.837],[0.483,1.872],[0.451,1.76],[0.456,1.739],[0.463,1.725],[0.46,1.704],[0.471,1.693],[0.474,1.676],[0.481,1.683],[0.478,1.62],[0.496,1.788],[0.5,1.774],[0.505,1.732],[0.509,1.718],[0.514,1.746],[0.518,1.732],[0.523,1.739],[0.527,1.774],[0.484,1.939],[0.496,1.844],[0.503,1.823],[0.511,1.896],[0.518,1.847],[0.525,1.844],[0.527,1.819],[0.5,1.662],[0.509,1.697],[0.514,1.648],[0.518,1.69],[0.523,1.676],[0.527,1.655],[0.536,1.669],[0.532,1.767],[0.536,1.746],[0.541,1.788],[0.545,1.732],[0.55,1.711],[0.554,1.69],[0.55,1.669],[0.559,1.739],[0.563,1.76],[0.532,1.959],[0.529,1.613],[0.536,1.599],[0.545,1.592],[0.554,1.578],[0.561,1.571],[0.568,1.557],[0.577,1.55],[0.586,1.536],[0.529,1.529],[0.53,1.498],[0.541,1.669],[0.55,1.641],[0.554,1.627],[0.563,1.641],[0.568,1.662],[0.572,1.69],[0.577,1.718],[0.581,1.739],[0.586,1.753],[0.59,1.725],[0.595,1.739],[0.597,1.697],[0.599,1.676],[0.592,1.781],[0.604,1.767],[0.584,1.959],[0.59,1.9],[0.593,1.865],[0.595,1.781],[0.59,1.683],[0.608,1.697],[0.604,1.655],[0.617,1.76],[0.63,1.732],[0.635,1.718],[0.642,1.665],[0.639,1.634],[0.653,1.662],[0.647,1.62],[0.61,1.571],[0.614,1.543],[0.622,1.529],[0.624,1.5],[0.59,1.529],[0.578,1.498],[0.592,1.435],[0.613,1.486],[0.61,1.472],[0.657,1.529],[0.664,1.486],[0.669,1.536],[0.653,1.428],[0.669,1.769],[0.68,1.772],[0.674,1.416],[0.705,1.742],[0.707,1.728],[0.696,1.62],[0.705,1.571],[0.686,1.543],[0.689,1.486],[0.691,1.374],[0.702,1.374],[0.711,1.472],[0.716,1.414],[0.723,1.423],[0.736,1.62],[0.743,1.62],[0.743,1.557],[0.735,1.505],[0.736,1.435],[0.743,1.4],[0.753,1.524],[0.761,1.505],[0.765,1.472],[0.769,1.482],[0.781,1.524],[0.785,1.486],[0.794,1.372],[0.832,1.524],[0.834,1.353],[0.839,1.482],[0.861,1.294],[0.895,1.742],[0.919,1.669],[0.933,1.547],[0.897,1.315],[0.911,1.339],[0.94,1.676],[0.929,1.286],[0.976,1.472],[0.98,1.444],[0.983,1.51],
[0.12,2.2],[0.13,2.17],[0.145,2.19],[0.15,2.14],[0.16,2.16],[0.165,2.12],[0.17,2.1],[0.185,2.17],[0.19,2.19],[0.2,2.16],[0.205,2.12],[0.22,2.14],[0.225,2.06],[0.235,2.03],[0.245,2.05],[0.26,2.03],[0.27,2.02],[0.285,2.0],[0.29,1.97],[0.3,1.96],[0.31,1.95],[0.32,1.92],[0.33,1.92],[0.34,1.94],[0.345,1.9],[0.35,1.91],[0.36,1.9],[0.37,1.91],[0.38,1.89],[0.39,1.88],[0.31,1.82],[0.32,1.85],[0.335,1.86],[0.34,1.83],[0.355,1.84],[0.37,1.86],[0.4,1.83],[0.41,1.8],[0.42,1.82],[0.425,1.79],[0.45,1.8],[0.46,1.78],[0.47,1.74],[0.48,1.71],[0.49,1.73],[0.5,1.7],[0.51,1.76],[0.52,1.71],[0.54,1.72],[0.555,1.75],[0.57,1.72],[0.58,1.7],[0.6,1.72]];

const panelPoints=[mfbPoints,mfPoints,scPoints,dghuPoints];

const panelLayout=[
 {id:'c0',left:0,top:0,w:685,h:620,yw:135,xh:57,padR:21,yTitle:true,xTitle:false},
 {id:'c1',left:685,top:0,w:685,h:620,yw:116,xh:57,padR:27,yTitle:false,xTitle:false},
 {id:'c2',left:0,top:675,w:685,h:656,yw:135,xh:82,padR:21,yTitle:true,xTitle:true},
 {id:'c3',left:685,top:675,w:685,h:656,yw:116,xh:82,padR:27,yTitle:false,xTitle:true}
];

Chart.defaults.font.family="'Liberation Sans', Arial, Helvetica, sans-serif";

const panelBg={id:'panelBg',beforeDraw(chart){const a=chart.chartArea;const c=chart.ctx;c.save();c.fillStyle='#EBEBEB';c.fillRect(a.left,a.top,a.right-a.left,a.bottom-a.top);c.restore();}};

function isMajor(list,v){return list.some(m=>Math.abs(m-v)<1e-9);}

panelLayout.forEach((L,i)=>{
  const cv=document.getElementById(L.id);
  cv.width=L.w;cv.height=L.h;
  cv.style.left=L.left+'px';cv.style.top=L.top+'px';
  cv.style.width=L.w+'px';cv.style.height=L.h+'px';
  new Chart(cv,{
    type:'scatter',
    data:{datasets:[{data:panelPoints[i].map(p=>({x:p[0],y:p[1]})),backgroundColor:'#000000',borderColor:'#000000',pointRadius:5,pointHoverRadius:5,pointBorderWidth:0,borderWidth:0}]},
    options:{
      responsive:false,animation:false,devicePixelRatio:1,
      events:[],
      layout:{padding:{left:0,right:L.padR,top:0,bottom:0}},
      plugins:{
        legend:{display:false},tooltip:{enabled:false},
        title:{display:true,text:panelTitles[i],align:'start',fullSize:false,color:'#000000',
          font:{size:51.5,lineHeight:1,weight:'normal'},padding:{top:6.5,bottom:12}}
      },
      scales:{
        x:{type:'linear',min:-0.05,max:1.05,
          afterBuildTicks:s=>{s.ticks=xMajorTicks.concat(xMinorTicks).sort((a,b)=>a-b).map(v=>({value:v}));},
          afterFit:s=>{s.height=L.xh;},
          ticks:{autoSkip:false,maxRotation:0,minRotation:0,padding:4,color:'#4D4D4D',font:{size:34,lineHeight:1},
            callback:v=>{const k=xMajorTicks.findIndex(m=>Math.abs(m-v)<1e-9);return k>=0?xTickLabels[k]:'';}},
          grid:{color:'#FFFFFF',lineWidth:c=>(c.tick&&isMajor(xMajorTicks,c.tick.value))?2.2:1.1,
            tickColor:c=>(c.tick&&isMajor(xMajorTicks,c.tick.value))?'#333333':'rgba(0,0,0,0)',
            tickWidth:2.2,tickLength:6,drawTicks:true},
          border:{display:false},
          title:{display:L.xTitle,text:xAxisTitle,color:'#000000',font:{family:"'Liberation Serif', 'DejaVu Serif', serif",size:56,lineHeight:0.8},padding:{top:0,bottom:0}}
        },
        y:{type:'linear',min:0.925,max:2.575,
          afterBuildTicks:s=>{s.ticks=yMajorTicks.concat(yMinorTicks).sort((a,b)=>a-b).map(v=>({value:v}));},
          afterFit:s=>{s.width=L.yw;},
          ticks:{autoSkip:false,padding:4,color:'#4D4D4D',font:{size:34,lineHeight:1},
            callback:v=>{const k=yMajorTicks.findIndex(m=>Math.abs(m-v)<1e-9);return k>=0?yTickLabels[k]:'';}},
          grid:{color:'#FFFFFF',lineWidth:c=>(c.tick&&isMajor(yMajorTicks,c.tick.value))?2.2:1.1,
            tickColor:c=>(c.tick&&isMajor(yMajorTicks,c.tick.value))?'#333333':'rgba(0,0,0,0)',
            tickWidth:2.2,tickLength:6,drawTicks:true},
          border:{display:false},
          title:{display:L.yTitle,text:yAxisTitle,color:'#000000',font:{size:54,lineHeight:1},padding:{top:6.5,bottom:0}}
        }
      }
    },
    plugins:[panelBg]
  });
});
</script>
</body></html>
